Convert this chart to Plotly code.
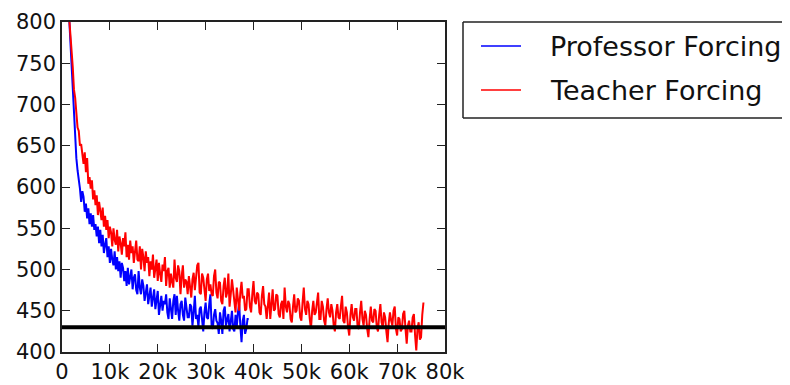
import plotly.graph_objects as go

prof_y = [805, 775, 742, 712, 688, 660, 635, 620, 610, 598,
          582, 595, 588, 570, 580, 562, 574, 555, 568, 552,
          566, 548, 555, 540, 552, 532, 548, 528, 542, 520,
          530, 538, 515, 528, 508, 525, 512, 505, 522, 500,
          515, 498, 510, 490, 508, 502, 486, 498, 480, 502,
          482, 495, 500, 476, 490, 494, 475, 470, 498, 478,
          470, 488, 480, 462, 475, 482, 458, 470, 478, 455,
          468, 476, 452, 462, 474, 445, 458, 468, 450, 462,
          458, 470, 448, 440, 465, 455, 440, 462, 470, 445,
          468, 450, 438, 458, 462, 445, 438, 466, 450, 442,
          442, 458, 455, 432, 448, 468, 440, 445, 430, 452,
          455, 438, 425, 448, 460, 442, 440, 458, 470, 432,
          428, 445, 452, 438, 435, 422, 448, 438, 422, 450,
          455, 432, 440, 446, 425, 436, 450, 428, 425, 445,
          430, 448, 458, 432, 412, 438, 445, 422, 428, 440,
          440]
prof_x = list(range(1500, 1500 + 250 * len(prof_y), 250))

teach_y = [805, 788, 762, 745, 718, 708, 690, 672, 668, 650,
           652, 640, 628, 642, 618, 635, 604, 612, 598, 608,
           585, 596, 578, 590, 566, 582, 570, 560, 575, 552,
           565, 548, 560, 538, 552, 545, 528, 550, 536, 530,
           548, 522, 540, 532, 518, 538, 528, 545, 515, 530,
           512, 535, 520, 528, 508, 525, 535, 512, 510, 528,
           500, 525, 515, 498, 522, 508, 515, 492, 510, 500,
           518, 490, 505, 512, 486, 508, 495, 485, 506, 498,
           515, 480, 498, 502, 478, 495, 485, 478, 512, 490,
           485, 505, 498, 470, 492, 505, 478, 488, 485, 470,
           492, 480, 466, 488, 496, 475, 488, 505, 508, 472,
           470, 495, 490, 478, 462, 488, 495, 474, 482, 470,
           468, 492, 500, 472, 465, 485, 484, 462, 458, 480,
           490, 466, 472, 495, 455, 470, 488, 475, 462, 448,
           478, 460, 450, 472, 485, 465, 468, 450, 452, 476,
           476, 455, 448, 470, 486, 462, 458, 472, 470, 448,
           445, 468, 480, 458, 455, 440, 462, 472, 440, 455,
           476, 450, 452, 470, 468, 446, 442, 458, 462, 440,
           478, 455, 448, 462, 458, 440, 436, 455, 470, 448,
           450, 465, 462, 442, 438, 460, 478, 452, 445, 462,
           458, 440, 428, 450, 462, 445, 448, 460, 472, 440,
           440, 462, 455, 438, 432, 452, 465, 448, 442, 458,
           450, 432, 425, 448, 458, 442, 440, 455, 468, 438,
           435, 455, 448, 430, 420, 445, 458, 442, 438, 452,
           452, 430, 428, 448, 462, 440, 432, 450, 445, 428,
           418, 440, 455, 438, 436, 452, 450, 430, 425, 445,
           458, 436, 430, 448, 442, 425, 412, 435, 448, 438,
           432, 450, 455, 428, 420, 442, 440, 425, 428, 446,
           450, 428, 410, 432, 438, 425, 425, 442, 446, 420,
           402, 428, 436, 415, 418, 445, 460]
teach_x = list(range(1500, 1500 + 250 * len(teach_y), 250))

baseline_x = [0, 80000]
baseline_y = [430, 430]

x_ticks = [0, 10000, 20000, 30000, 40000, 50000, 60000, 70000, 80000]
x_labels = ["0", "10k", "20k", "30k", "40k", "50k", "60k", "70k", "80k"]
y_ticks = [400, 450, 500, 550, 600, 650, 700, 750, 800]

series_names = ["Professor Forcing", "Teacher Forcing"]
series_colors = ["#0000ff", "#ff0000"]

FONT = "DejaVu Sans"

# page body has an 8px margin; the figure is sized to fit the 790x385 window
OFF = 8
W, H = 790 - OFF, 385 - OFF
# plot-area geometry in window pixels
PL, PR, PT, PB = 62, 445, 22, 352
def px(xp):
    return (xp - PL) / (PR - PL)
def py(yp):
    return (PB - yp) / (PB - PT)

fig = go.Figure()
fig.add_trace(go.Scatter(x=prof_x, y=prof_y, mode="lines", name=series_names[0],
                         line=dict(color=series_colors[0], width=2), showlegend=False))
fig.add_trace(go.Scatter(x=teach_x, y=teach_y, mode="lines", name=series_names[1],
                         line=dict(color=series_colors[1], width=2), showlegend=False))
fig.add_trace(go.Scatter(x=baseline_x, y=baseline_y, mode="lines",
                         line=dict(color="black", width=4), showlegend=False,
                         hoverinfo="skip"))

axis_common = dict(showgrid=False, zeroline=False, showline=True, mirror="ticks",
                   linecolor="#222222", linewidth=1.5, ticks="inside", ticklen=8,
                   tickwidth=1, tickcolor="#222222",
                   tickfont=dict(family=FONT, size=21, color="#111111"))

# legend box (its right side runs past the edge of the image, as in the reference)
box_line = dict(color="#222222", width=1.5)
bx0, bx1, by0, by1 = px(463), px(820), py(118), py(22)
shapes = [
    dict(type="line", xref="paper", yref="paper", x0=bx0, x1=bx1, y0=by1, y1=by1, line=box_line),
    dict(type="line", xref="paper", yref="paper", x0=bx0, x1=bx1, y0=by0, y1=by0, line=box_line),
    dict(type="line", xref="paper", yref="paper", x0=bx0, x1=bx0, y0=by0, y1=by1, line=box_line),
]
annotations = []
row_y = [46, 90]
for name, col, yy in zip(series_names, series_colors, row_y):
    shapes.append(dict(type="line", xref="paper", yref="paper",
                       x0=px(481), x1=px(521), y0=py(yy), y1=py(yy),
                       line=dict(color=col, width=1.5), layer="above"))
    annotations.append(dict(xref="paper", yref="paper", x=px(548), y=py(yy),
                            xanchor="left", yanchor="middle", showarrow=False,
                            text=name, font=dict(family=FONT, size=27, color="#111111")))

fig.update_layout(
    width=W, height=H,
    margin=dict(l=PL - OFF, r=W - (PR - OFF), t=PT - OFF, b=H - (PB - OFF),
                autoexpand=False),
    paper_bgcolor="white", plot_bgcolor="white",
    xaxis=dict(range=[0, 80000], tickvals=x_ticks, ticktext=x_labels, **axis_common),
    yaxis=dict(range=[400, 800], tickvals=y_ticks, **axis_common),
    shapes=shapes, annotations=annotations,
    showlegend=False,
)

fig.write_html("out.html")
